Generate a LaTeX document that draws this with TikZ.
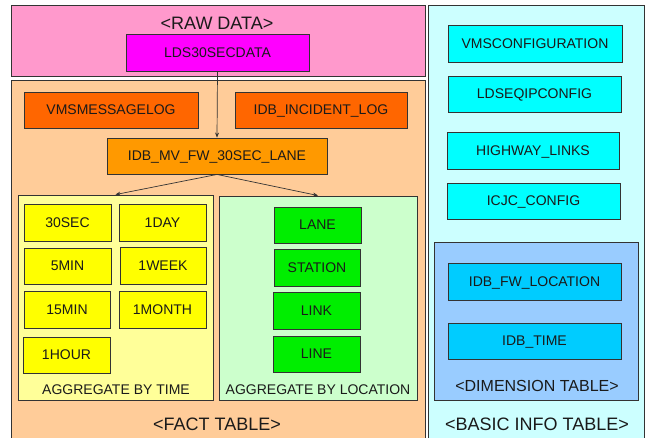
\documentclass[tikz,border=0pt]{standalone}
\usepackage{fontspec}
\setmainfont{Liberation Sans}
\usetikzlibrary{arrows.meta}
\definecolor{rawbg}{HTML}{FF99CC}
\definecolor{factbg}{HTML}{FFCC99}
\definecolor{timebg}{HTML}{FFFF99}
\definecolor{locbg}{HTML}{CCFFCC}
\definecolor{infobg}{HTML}{CCFFFF}
\definecolor{dimbg}{HTML}{99CCFF}
\definecolor{magentabox}{HTML}{FF00FF}
\definecolor{logbox}{HTML}{FF6600}
\definecolor{mvbox}{HTML}{FF9900}
\definecolor{timebox}{HTML}{FFFF00}
\definecolor{locbox}{HTML}{00EE00}
\definecolor{infobox}{HTML}{00FFFF}
\definecolor{dimbox}{HTML}{00CCFF}
\definecolor{edge}{HTML}{333333}
\definecolor{ink}{HTML}{1A1A1A}
\tikzset{
  panel/.style={draw=edge, line width=0.9pt, inner sep=0pt},
  tbl/.style={draw=edge, line width=0.9pt, inner sep=0pt, text=ink,
    font=\fontsize{14}{16}\selectfont, text height=0.95em, text depth=0pt},
  heading/.style={text=ink, inner sep=0pt, font=\fontsize{18}{20}\selectfont},
  caption/.style={text=ink, inner sep=0pt, font=\fontsize{14}{16}\selectfont},
  flow/.style={draw=edge, line width=0.7pt, -{Stealth[length=5pt,width=4pt]}}
}
% \rectnode[style]{name}{x1}{y1}{x2}{y2}{text}: a node filling the given corners
\newcommand\rectnode[7][]{%
  \node[#1, minimum width={(#5)-(#3)}, minimum height={(#6)-(#4)}]
    (#2) at ({((#3)+(#5))/2},{((#4)+(#6))/2}) {#7};}
\begin{document}
\begin{tikzpicture}[x=1pt,y=-1pt]
\useasboundingbox (0,0) rectangle (651,438);
\clip (0,0) rectangle (651,438);

% outer panels
\rectnode[panel, fill=rawbg]{raw}{11}{5}{425}{76}{}
\rectnode[panel, fill=factbg]{fact}{11}{80}{425}{445}{}
\rectnode[panel, fill=infobg]{info}{428}{5}{644}{445}{}

\node[heading] (rawlbl) at (217,23) {<RAW DATA>};
\rectnode[tbl, fill=magentabox]{lds}{126}{34}{309}{71}{LDS30SECDATA}

% fact table
\rectnode[tbl, fill=logbox]{vmslog}{24}{92}{198}{128}{VMSMESSAGELOG}
\rectnode[tbl, fill=logbox]{incident}{235}{92}{407}{128}{IDB\_INCIDENT\_LOG}
\rectnode[tbl, fill=mvbox]{mv}{107}{138}{327}{174}{IDB\_MV\_FW\_30SEC\_LANE}

\rectnode[panel, fill=timebg]{bytime}{18}{195}{213}{400}{}
\rectnode[panel, fill=locbg]{byloc}{219}{196}{417}{400}{}

\rectnode[tbl, fill=timebox]{t30s}{24}{204}{111}{241}{30SEC}
\rectnode[tbl, fill=timebox]{t1d}{119}{204}{206}{241}{1DAY}
\rectnode[tbl, fill=timebox]{t5m}{24}{248}{111}{284}{5MIN}
\rectnode[tbl, fill=timebox]{t1w}{120}{247}{206}{284}{1WEEK}
\rectnode[tbl, fill=timebox]{t15m}{24}{291}{110}{328}{15MIN}
\rectnode[tbl, fill=timebox]{t1mo}{119}{291}{206}{328}{1MONTH}
\rectnode[tbl, fill=timebox]{t1h}{23}{337}{110}{373}{1HOUR}
\node[caption] (timelbl) at (116,390) {AGGREGATE BY TIME};

\rectnode[tbl, fill=locbox]{lane}{274}{207}{361}{243}{LANE}
\rectnode[tbl, fill=locbox]{station}{274}{249}{360}{286}{STATION}
\rectnode[tbl, fill=locbox]{link}{273}{292}{360}{329}{LINK}
\rectnode[tbl, fill=locbox]{line}{273}{336}{360}{372}{LINE}
\node[caption] (loclbl) at (318,390) {AGGREGATE BY LOCATION};

\node[heading] (factlbl) at (217,424) {<FACT TABLE>};

% basic info table
\rectnode[tbl, fill=infobox]{vmscfg}{448}{25}{622}{62}{VMSCONFIGURATION}
\rectnode[tbl, fill=infobox]{ldscfg}{448}{76}{621}{112}{LDSEQIPCONFIG}
\rectnode[tbl, fill=infobox]{hwlinks}{447}{132}{619}{169}{HIGHWAY\_LINKS}
\rectnode[tbl, fill=infobox]{icjc}{447}{183}{620}{219}{ICJC\_CONFIG}

\rectnode[panel, fill=dimbg]{dim}{434}{242}{638}{400}{}
\rectnode[tbl, fill=dimbox]{fwloc}{448}{263}{621}{300}{IDB\_FW\_LOCATION}
\rectnode[tbl, fill=dimbox]{idbtime}{448}{323}{621}{359}{IDB\_TIME}
\node[heading, font=\fontsize{16}{18}\selectfont] (dimlbl) at (537,386) {<DIMENSION TABLE>};
\node[heading] (infolbl) at (537,424) {<BASIC INFO TABLE>};

% data flow
\draw[flow] (lds.south) -- (mv.north);
\draw[flow] (mv.south) -- (bytime.north);
\draw[flow] (mv.south) -- (byloc.north);
\end{tikzpicture}
\end{document}
